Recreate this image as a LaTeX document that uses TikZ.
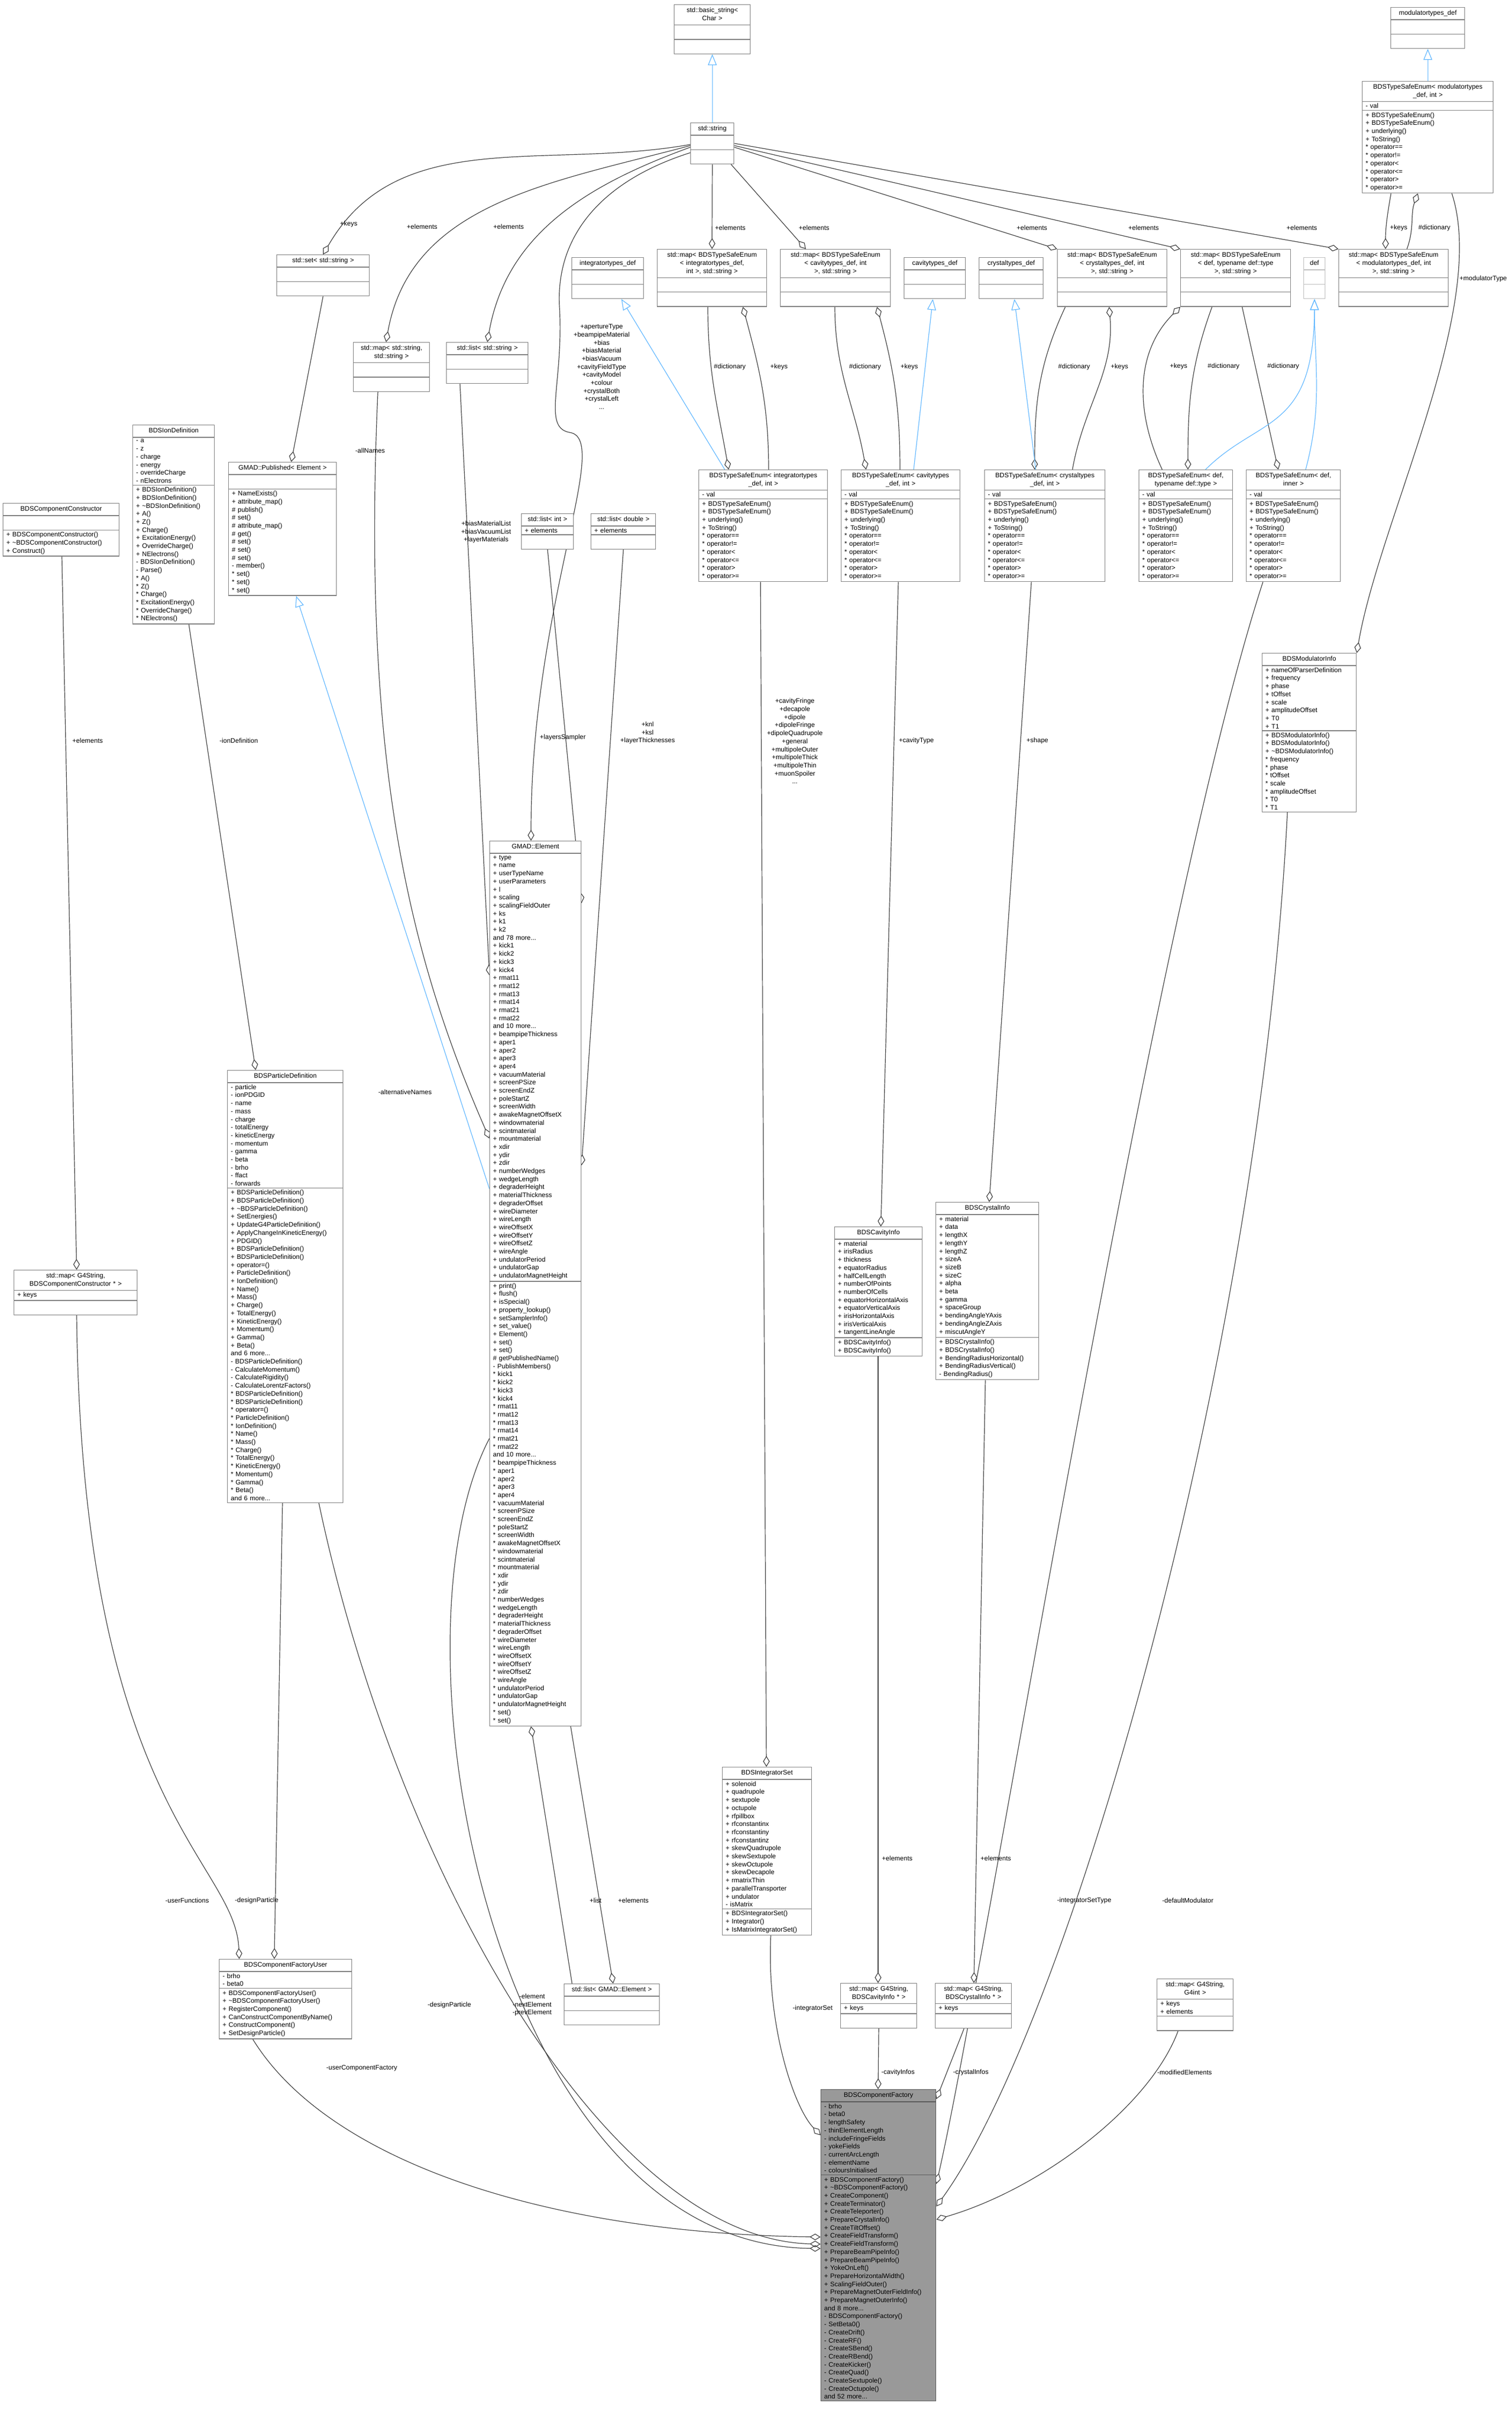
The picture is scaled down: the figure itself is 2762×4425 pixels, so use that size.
\documentclass[tikz,border=0pt]{standalone}
\usepackage{fontspec}
\setmainfont{Liberation Sans}
\usetikzlibrary{shapes.multipart,arrows.meta,backgrounds}
\definecolor{boxc}{HTML}{808080}
\definecolor{edgec}{HTML}{404040}
\definecolor{inhc}{HTML}{63B8FF}
\definecolor{cfc}{HTML}{999999}
\newcommand\fs{\fontsize{12}{14.7}\selectfont}
\newcommand\emp{\rule{0pt}{19pt}}
\newcommand\tl{\textasciitilde}
\newcommand\ttl[1]{\centering\begin{tabular}{@{}c@{}}#1\end{tabular}\par}
\tikzset{
 uml/.style={draw=boxc, line width=1.4pt, fill=white, rectangle split, rectangle split parts=3, anchor=north west, inner xsep=6pt, inner ysep=3pt, align=left, font=\fs},
 agg/.style={draw=edgec, line width=1.2pt, -{Diamond[open,length=20pt,width=12pt]}},
 inh/.style={draw=inhc, line width=1.2pt, -{Triangle[open,length=20pt,width=16pt]}},
 lbl/.style={font=\fs, inner sep=1pt, align=center},
}
\begin{document}
\begin{tikzpicture}[x=1pt,y=1pt]
\useasboundingbox (0,0) rectangle (2762,-4425);
% ---------- top row
\node[uml,text width=127] (bstr) at (1231,-8) {\ttl{std::basic\_string\textless\\ Char \textgreater}\nodepart{two}\emp\nodepart{three}\emp};
\node[uml,text width=67] (str) at (1261,-224) {\ttl{std::string}\nodepart{two}\emp\nodepart{three}\emp};
\node[uml,text width=123] (modtd) at (2540,-13) {\ttl{modulatortypes\_def}\nodepart{two}\emp\nodepart{three}\emp};
\node[uml,text width=227] (tsemod) at (2488,-148) {\ttl{BDSTypeSafeEnum\textless{} modulatortypes\\ \_def, int \textgreater}\nodepart{two}- val\nodepart{three}+ BDSTypeSafeEnum()\\+ BDSTypeSafeEnum()\\+ underlying()\\+ ToString()\\{}* operator==\\{}* operator!=\\{}* operator\textless\\{}* operator\textless=\\{}* operator\textgreater\\{}* operator\textgreater=};
% ---------- second row
\node[uml,text width=157] (setstr) at (505,-465) {\ttl{std::set\textless{} std::string \textgreater}\nodepart{two}\emp\nodepart{three}\emp};
\node[uml,text width=127] (mapss) at (645,-625) {\ttl{std::map\textless{} std::string,\\ std::string \textgreater}\nodepart{two}\emp\nodepart{three}\emp};
\node[uml,text width=137] (liststr) at (815,-625) {\ttl{std::list\textless{} std::string \textgreater}\nodepart{two}\emp\nodepart{three}\emp};
\node[uml,text width=119] (inttd) at (1044,-470) {\ttl{integratortypes\_def}\nodepart{two}\emp\nodepart{three}\emp};
\node[uml,text width=188] (mapint) at (1200,-455) {\ttl{std::map\textless{} BDSTypeSafeEnum\\\textless{} integratortypes\_def,\\ int \textgreater, std::string \textgreater}\nodepart{two}\emp\nodepart{three}\emp};
\node[uml,text width=189] (mapcav) at (1425,-455) {\ttl{std::map\textless{} BDSTypeSafeEnum\\\textless{} cavitytypes\_def, int\\ \textgreater, std::string \textgreater}\nodepart{two}\emp\nodepart{three}\emp};
\node[uml,text width=100] (cavtd) at (1651,-470) {\ttl{cavitytypes\_def}\nodepart{two}\emp\nodepart{three}\emp};
\node[uml,text width=105] (crytd) at (1788,-470) {\ttl{crystaltypes\_def}\nodepart{two}\emp\nodepart{three}\emp};
\node[uml,text width=188] (mapcry) at (1931,-455) {\ttl{std::map\textless{} BDSTypeSafeEnum\\\textless{} crystaltypes\_def, int\\ \textgreater, std::string \textgreater}\nodepart{two}\emp\nodepart{three}\emp};
\node[uml,text width=189] (mapdef) at (2156,-455) {\ttl{std::map\textless{} BDSTypeSafeEnum\\\textless{} def, typename def::type\\ \textgreater, std::string \textgreater}\nodepart{two}\emp\nodepart{three}\emp};
\node[uml,draw=boxc!50,text width=27] (deftd) at (2381,-470) {\ttl{def}\nodepart{two}\emp\nodepart{three}\emp};
\node[uml,text width=188] (mapmod) at (2445,-455) {\ttl{std::map\textless{} BDSTypeSafeEnum\\\textless{} modulatortypes\_def, int\\ \textgreater, std::string \textgreater}\nodepart{two}\emp\nodepart{three}\emp};
% ---------- third row
\node[uml,text width=137] (iondef) at (242,-776) {\ttl{BDSIonDefinition}\nodepart{two}- a\\- z\\- charge\\- energy\\- overrideCharge\\- nElectrons\nodepart{three}+ BDSIonDefinition()\\+ BDSIonDefinition()\\+ \tl BDSIonDefinition()\\+ A()\\+ Z()\\+ Charge()\\+ ExcitationEnergy()\\+ OverrideCharge()\\+ NElectrons()\\- BDSIonDefinition()\\- Parse()\\{}* A()\\{}* Z()\\{}* Charge()\\{}* ExcitationEnergy()\\{}* OverrideCharge()\\{}* NElectrons()};
\node[uml,text width=200] (compcon) at (5,-919) {\ttl{BDSComponentConstructor}\nodepart{two}\emp\nodepart{three}+ BDSComponentConstructor()\\+ \tl BDSComponentConstructor()\\+ Construct()};
\node[uml,text width=185] (pubel) at (417,-844) {\ttl{GMAD::Published\textless{} Element \textgreater}\nodepart{two}\emp\nodepart{three}+ NameExists()\\+ attribute\_map()\\\# publish()\\\# set()\\\# attribute\_map()\\\# get()\\\# set()\\\# set()\\\# set()\\- member()\\{}* set()\\{}* set()\\{}* set()};
\node[uml,text width=83] (listint) at (952,-938) {\ttl{std::list\textless{} int \textgreater}\nodepart{two}+ elements\nodepart{three}\emp};
\node[uml,text width=106] (listdbl) at (1079,-938) {\ttl{std::list\textless{} double \textgreater}\nodepart{two}+ elements\nodepart{three}\emp};
\node[uml,text width=223] (tseint) at (1276,-858) {\ttl{BDSTypeSafeEnum\textless{} integratortypes\\ \_def, int \textgreater}\nodepart{two}- val\nodepart{three}+ BDSTypeSafeEnum()\\+ BDSTypeSafeEnum()\\+ underlying()\\+ ToString()\\{}* operator==\\{}* operator!=\\{}* operator\textless\\{}* operator\textless=\\{}* operator\textgreater\\{}* operator\textgreater=};
\node[uml,text width=205] (tsecav) at (1536,-858) {\ttl{BDSTypeSafeEnum\textless{} cavitytypes\\ \_def, int \textgreater}\nodepart{two}- val\nodepart{three}+ BDSTypeSafeEnum()\\+ BDSTypeSafeEnum()\\+ underlying()\\+ ToString()\\{}* operator==\\{}* operator!=\\{}* operator\textless\\{}* operator\textless=\\{}* operator\textgreater\\{}* operator\textgreater=};
\node[uml,text width=208] (tsecry) at (1798,-858) {\ttl{BDSTypeSafeEnum\textless{} crystaltypes\\ \_def, int \textgreater}\nodepart{two}- val\nodepart{three}+ BDSTypeSafeEnum()\\+ BDSTypeSafeEnum()\\+ underlying()\\+ ToString()\\{}* operator==\\{}* operator!=\\{}* operator\textless\\{}* operator\textless=\\{}* operator\textgreater\\{}* operator\textgreater=};
\node[uml,text width=159] (tsedt) at (2080,-858) {\ttl{BDSTypeSafeEnum\textless{} def,\\ typename def::type \textgreater}\nodepart{two}- val\nodepart{three}+ BDSTypeSafeEnum()\\+ BDSTypeSafeEnum()\\+ underlying()\\+ ToString()\\{}* operator==\\{}* operator!=\\{}* operator\textless\\{}* operator\textless=\\{}* operator\textgreater\\{}* operator\textgreater=};
\node[uml,text width=160] (tsedi) at (2276,-858) {\ttl{BDSTypeSafeEnum\textless{} def,\\ inner \textgreater}\nodepart{two}- val\nodepart{three}+ BDSTypeSafeEnum()\\+ BDSTypeSafeEnum()\\+ underlying()\\+ ToString()\\{}* operator==\\{}* operator!=\\{}* operator\textless\\{}* operator\textless=\\{}* operator\textgreater\\{}* operator\textgreater=};
\node[uml,text width=160] (modinfo) at (2305,-1193) {\ttl{BDSModulatorInfo}\nodepart{two}+ nameOfParserDefinition\\+ frequency\\+ phase\\+ tOffset\\+ scale\\+ amplitudeOffset\\+ T0\\+ T1\nodepart{three}+ BDSModulatorInfo()\\+ BDSModulatorInfo()\\+ \tl BDSModulatorInfo()\\{}* frequency\\{}* phase\\{}* tOffset\\{}* scale\\{}* amplitudeOffset\\{}* T0\\{}* T1};
% ---------- GMAD::Element
\node[uml,text width=155] (elem) at (894,-1536) {\ttl{GMAD::Element}\nodepart{two}+ type\\+ name\\+ userTypeName\\+ userParameters\\+ l\\+ scaling\\+ scalingFieldOuter\\+ ks\\+ k1\\+ k2\\and 78 more...\\+ kick1\\+ kick2\\+ kick3\\+ kick4\\+ rmat11\\+ rmat12\\+ rmat13\\+ rmat14\\+ rmat21\\+ rmat22\\and 10 more...\\+ beampipeThickness\\+ aper1\\+ aper2\\+ aper3\\+ aper4\\+ vacuumMaterial\\+ screenPSize\\+ screenEndZ\\+ poleStartZ\\+ screenWidth\\+ awakeMagnetOffsetX\\+ windowmaterial\\+ scintmaterial\\+ mountmaterial\\+ xdir\\+ ydir\\+ zdir\\+ numberWedges\\+ wedgeLength\\+ degraderHeight\\+ materialThickness\\+ degraderOffset\\+ wireDiameter\\+ wireLength\\+ wireOffsetX\\+ wireOffsetY\\+ wireOffsetZ\\+ wireAngle\\+ undulatorPeriod\\+ undulatorGap\\+ undulatorMagnetHeight\nodepart{three}+ print()\\+ flush()\\+ isSpecial()\\+ property\_lookup()\\+ setSamplerInfo()\\+ set\_value()\\+ Element()\\+ set()\\+ set()\\\# getPublishedName()\\- PublishMembers()\\{}* kick1\\{}* kick2\\{}* kick3\\{}* kick4\\{}* rmat11\\{}* rmat12\\{}* rmat13\\{}* rmat14\\{}* rmat21\\{}* rmat22\\and 10 more...\\{}* beampipeThickness\\{}* aper1\\{}* aper2\\{}* aper3\\{}* aper4\\{}* vacuumMaterial\\{}* screenPSize\\{}* screenEndZ\\{}* poleStartZ\\{}* screenWidth\\{}* awakeMagnetOffsetX\\{}* windowmaterial\\{}* scintmaterial\\{}* mountmaterial\\{}* xdir\\{}* ydir\\{}* zdir\\{}* numberWedges\\{}* wedgeLength\\{}* degraderHeight\\{}* materialThickness\\{}* degraderOffset\\{}* wireDiameter\\{}* wireLength\\{}* wireOffsetX\\{}* wireOffsetY\\{}* wireOffsetZ\\{}* wireAngle\\{}* undulatorPeriod\\{}* undulatorGap\\{}* undulatorMagnetHeight\\{}* set()\\{}* set()};
% ---------- particle definition etc
\node[uml,text width=199] (partdef) at (415,-1955) {\ttl{BDSParticleDefinition}\nodepart{two}- particle\\- ionPDGID\\- name\\- mass\\- charge\\- totalEnergy\\- kineticEnergy\\- momentum\\- gamma\\- beta\\- brho\\- ffact\\- forwards\nodepart{three}+ BDSParticleDefinition()\\+ BDSParticleDefinition()\\+ \tl BDSParticleDefinition()\\+ SetEnergies()\\+ UpdateG4ParticleDefinition()\\+ ApplyChangeInKineticEnergy()\\+ PDGID()\\+ BDSParticleDefinition()\\+ BDSParticleDefinition()\\+ operator=()\\+ ParticleDefinition()\\+ IonDefinition()\\+ Name()\\+ Mass()\\+ Charge()\\+ TotalEnergy()\\+ KineticEnergy()\\+ Momentum()\\+ Gamma()\\+ Beta()\\and 6 more...\\- BDSParticleDefinition()\\- CalculateMomentum()\\- CalculateRigidity()\\- CalculateLorentzFactors()\\{}* BDSParticleDefinition()\\{}* BDSParticleDefinition()\\{}* operator=()\\{}* ParticleDefinition()\\{}* IonDefinition()\\{}* Name()\\{}* Mass()\\{}* Charge()\\{}* TotalEnergy()\\{}* KineticEnergy()\\{}* Momentum()\\{}* Gamma()\\{}* Beta()\\and 6 more...};
\node[uml,text width=213] (mapcc) at (25,-2320) {\ttl{std::map\textless{} G4String,\\ BDSComponentConstructor * \textgreater}\nodepart{two}+ keys\nodepart{three}\emp};
\node[uml,text width=148] (cavinfo) at (1524,-2241) {\ttl{BDSCavityInfo}\nodepart{two}+ material\\+ irisRadius\\+ thickness\\+ equatorRadius\\+ halfCellLength\\+ numberOfPoints\\+ numberOfCells\\+ equatorHorizontalAxis\\+ equatorVerticalAxis\\+ irisHorizontalAxis\\+ irisVerticalAxis\\+ tangentLineAngle\nodepart{three}+ BDSCavityInfo()\\+ BDSCavityInfo()};
\node[uml,text width=176] (cryinfo) at (1709,-2196) {\ttl{BDSCrystalInfo}\nodepart{two}+ material\\+ data\\+ lengthX\\+ lengthY\\+ lengthZ\\+ sizeA\\+ sizeB\\+ sizeC\\+ alpha\\+ beta\\+ gamma\\+ spaceGroup\\+ bendingAngleYAxis\\+ bendingAngleZAxis\\+ miscutAngleY\nodepart{three}+ BDSCrystalInfo()\\+ BDSCrystalInfo()\\+ BendingRadiusHorizontal()\\+ BendingRadiusVertical()\\- BendingRadius()};
\node[uml,text width=151] (intset) at (1319,-3228) {\ttl{BDSIntegratorSet}\nodepart{two}+ solenoid\\+ quadrupole\\+ sextupole\\+ octupole\\+ rfpillbox\\+ rfconstantinx\\+ rfconstantiny\\+ rfconstantinz\\+ skewQuadrupole\\+ skewSextupole\\+ skewOctupole\\+ skewDecapole\\+ rmatrixThin\\+ parallelTransporter\\+ undulator\\- isMatrix\nodepart{three}+ BDSIntegratorSet()\\+ Integrator()\\+ IsMatrixIntegratorSet()};
\node[uml,text width=162] (listel) at (1030,-3624) {\ttl{std::list\textless{} GMAD::Element \textgreater}\nodepart{two}\emp\nodepart{three}\emp};
\node[uml,text width=230] (cfu) at (400,-3579) {\ttl{BDSComponentFactoryUser}\nodepart{two}- brho\\- beta0\nodepart{three}+ BDSComponentFactoryUser()\\+ \tl BDSComponentFactoryUser()\\+ RegisterComponent()\\+ CanConstructComponentByName()\\+ ConstructComponent()\\+ SetDesignParticle()};
\node[uml,text width=127] (mapcav2) at (1535,-3623) {\ttl{std::map\textless{} G4String,\\ BDSCavityInfo * \textgreater}\nodepart{two}+ keys\nodepart{three}\emp};
\node[uml,text width=127] (mapcry2) at (1708,-3623) {\ttl{std::map\textless{} G4String,\\ BDSCrystalInfo * \textgreater}\nodepart{two}+ keys\nodepart{three}\emp};
\node[uml,text width=127] (mapg4) at (2113,-3615) {\ttl{std::map\textless{} G4String,\\ G4int \textgreater}\nodepart{two}+ keys\\+ elements\nodepart{three}\emp};
\node[uml,fill=cfc,draw=boxc!70!black,text width=198] (cf) at (1499,-3817) {\ttl{BDSComponentFactory}\nodepart{two}- brho\\- beta0\\- lengthSafety\\- thinElementLength\\- includeFringeFields\\- yokeFields\\- currentArcLength\\- elementName\\- coloursInitialised\nodepart{three}+ BDSComponentFactory()\\+ \tl BDSComponentFactory()\\+ CreateComponent()\\+ CreateTerminator()\\+ CreateTeleporter()\\+ PrepareCrystalInfo()\\+ CreateTiltOffset()\\+ CreateFieldTransform()\\+ CreateFieldTransform()\\+ PrepareBeamPipeInfo()\\+ PrepareBeamPipeInfo()\\+ YokeOnLeft()\\+ PrepareHorizontalWidth()\\+ ScalingFieldOuter()\\+ PrepareMagnetOuterFieldInfo()\\+ PrepareMagnetOuterInfo()\\and 8 more...\\- BDSComponentFactory()\\- SetBeta0()\\- CreateDrift()\\- CreateRF()\\- CreateSBend()\\- CreateRBend()\\- CreateKicker()\\- CreateQuad()\\- CreateSextupole()\\- CreateOctupole()\\and 52 more...};
% ================= connectors
\begin{scope}[on background layer]
\draw[inh] (str.north) -- (bstr.south);
\draw[agg] ([yshift=-40pt]str.north west) to[out=190,in=60] (setstr.north);
\draw[agg] ([yshift=-42pt]str.north west) to[out=195,in=80] ([xshift=-10pt]mapss.north);
\draw[agg] ([yshift=-45pt]str.north west) to[out=200,in=80] (liststr.north);
\draw[agg] ([yshift=-55pt]str.north west) .. controls (1100,-330) and (1015,-430) .. (1022,-560) .. controls (1030,-700) and (990,-780) .. (1040,-790) .. controls (1120,-800) and (970,-1100) .. ([xshift=76pt]elem.north west);
\draw[agg] (str.south) -- (mapint.north);
\draw[agg] ([xshift=-6pt]str.south east) -- ([xshift=47pt]mapcav.north west);
\draw[agg] ([yshift=-45pt]str.north east) -- (mapcry.north west);
\draw[agg] ([yshift=-42pt]str.north east) -- (mapdef.north west);
\draw[agg] ([yshift=-38pt]str.north east) -- (mapmod.north west);
\draw[agg] ([xshift=93pt]mapint.south west) to[out=-90,in=100] ([xshift=55pt]tseint.north west);
\draw[agg] ([xshift=128pt]tseint.north west) to[out=90,in=-75] ([xshift=157pt]mapint.south west);
\draw[inh] ([xshift=48pt]tseint.north west) -- ([xshift=91pt]inttd.south west);
\draw[agg] ([xshift=100pt]mapcav.south west) to[out=-90,in=100] ([xshift=46pt]tsecav.north west);
\draw[agg] ([xshift=108pt]tsecav.north west) to[out=90,in=-75] ([xshift=177pt]mapcav.south west);
\draw[inh] ([xshift=133pt]tsecav.north west) -- ([xshift=53pt]cavtd.south west);
\draw[agg] ([xshift=15pt]mapcry.south west) to[out=-115,in=90] ([xshift=92pt]tsecry.north west);
\draw[agg] ([xshift=161pt]tsecry.north west) to[out=80,in=-85] ([xshift=95pt]mapcry.south west);
\draw[inh] ([xshift=94pt]tsecry.north west) -- ([xshift=65pt]crytd.south west);
\draw[agg] ([xshift=58pt]mapdef.south west) to[out=-110,in=90] ([xshift=90pt]tsedt.north west);
\draw[agg] ([xshift=43pt]tsedt.north west) to[out=115,in=-135] (mapdef.south west);
\draw[agg] ([xshift=113pt]mapdef.south west) -- ([xshift=59pt]tsedi.north west);
\draw[inh] ([xshift=122pt]tsedt.north west) .. controls (2300,-760) and (2400,-790) .. (deftd.south);
\draw[inh] ([xshift=109pt]tsedi.north west) to[out=75,in=-90] (deftd.south);
\draw[inh] (tsemod.north) -- (modtd.south);
\draw[agg] ([xshift=53pt]tsemod.south west) to[out=-100,in=90] ([xshift=86pt]mapmod.north west);
\draw[agg] ([xshift=125pt]mapmod.north west) to[out=70,in=-110] ([xshift=102pt]tsemod.south west);
\draw[agg] ([xshift=164pt]tsemod.south west) .. controls (2720,-560) and (2520,-950) .. (modinfo.north east);
\draw[agg] (setstr.south) -- ([xshift=115pt]pubel.north west);
\draw[inh] ([yshift=-636pt]elem.north west) -- ([xshift=124pt]pubel.south west);
\draw[agg] ([xshift=-25pt]mapss.south) .. controls (660,-1400) and (750,-1750) .. ([yshift=-544pt]elem.north west);
\draw[agg] ([xshift=-50pt]liststr.south) -- ([yshift=-246pt]elem.north west);
\draw[agg] (listint.south) -- ([yshift=-114pt]elem.north east);
\draw[agg] (listdbl.south) -- ([yshift=-593pt]elem.north east);
\draw[agg] ([xshift=103pt]iondef.south west) -- ([xshift=52pt]partdef.north west);
\draw[agg] ([xshift=108pt]compcon.south west) -- ([xshift=115pt]mapcc.north west);
\draw[agg] ([xshift=115pt]mapcc.south west) .. controls (150,-3300) and (430,-3400) .. ([xshift=37pt]cfu.north west);
\draw[agg] ([xshift=101pt]partdef.south west) -- ([xshift=101pt]cfu.north west);
\draw[agg] ([xshift=-45pt]partdef.south east) .. controls (720,-3400) and (1100,-4090) .. ([yshift=-283pt]cf.north west);
\draw[agg] ([xshift=-20pt]elem.south east) -- ([xshift=90pt]listel.north west);
\draw[agg] ([xshift=15pt]listel.north west) -- ([xshift=76pt]elem.south west);
\draw[agg] ([yshift=-1092pt]elem.north west) .. controls (700,-3000) and (900,-4100) .. ([yshift=-291pt]cf.north west);
\draw[agg] ([xshift=-60pt]cfu.south) .. controls (600,-3950) and (1000,-4080) .. ([yshift=-270pt]cf.north west);
\draw[agg] ([xshift=89pt]intset.south west) .. controls (1400,-3700) and (1450,-3850) .. ([yshift=-84pt]cf.north west);
\draw[agg] ([xshift=-5pt]tseint.south) -- ([xshift=81pt]intset.north west);
\draw[agg] ([xshift=105pt]tsecav.south west) -- ([xshift=85pt]cavinfo.north west);
\draw[agg] ([xshift=86pt]tsecry.south west) -- ([xshift=98pt]cryinfo.north west);
\draw[agg] ([xshift=80pt]cavinfo.south west) -- ([xshift=69pt]mapcav2.north west);
\draw[agg] ([xshift=91pt]cryinfo.south west) -- ([xshift=71pt]mapcry2.north west);
\draw[agg] (mapcav2.south) -- ([xshift=105pt]cf.north west);
\draw[agg] ([xshift=53pt]mapcry2.south west) -- ([yshift=-18pt]cf.north east);
\draw[agg] ([xshift=31pt]tsedi.south west) .. controls (2100,-1700) and (1800,-3600) .. ([yshift=-173pt]cf.north east);
\draw[agg] ([xshift=-40pt]modinfo.south) .. controls (2300,-2500) and (1950,-3700) .. ([yshift=-214pt]cf.north east);
\draw[agg] ([xshift=39pt]mapg4.south west) .. controls (2100,-3850) and (1900,-4000) .. ([yshift=-238pt]cf.north east);
\end{scope}
% ================= labels
\node[lbl,anchor=west] (t1) at (620,-409) {+keys};
\node[lbl,anchor=west] (t2) at (742,-414) {+elements};
\node[lbl,anchor=west] (t3) at (900,-414) {+elements};
\node[lbl] (t4) at (1099,-670) {+apertureType\\+beampipeMaterial\\+bias\\+biasMaterial\\+biasVacuum\\+cavityFieldType\\+cavityModel\\+colour\\+crystalBoth\\+crystalLeft\\...};
\node[lbl,anchor=west] (t5) at (1305,-416) {+elements};
\node[lbl,anchor=west] (t6) at (1458,-416) {+elements};
\node[lbl,anchor=west] (t7) at (1856,-416) {+elements};
\node[lbl,anchor=west] (t8) at (2060,-416) {+elements};
\node[lbl,anchor=west] (t9) at (2349,-416) {+elements};
\node[lbl,anchor=west] (t10) at (2538,-416) {+keys};
\node[lbl,anchor=west] (t11) at (2590,-416) {\#dictionary};
\node[lbl,anchor=west] (t12) at (2665,-509) {+modulatorType};
\node[lbl,anchor=west] (t13) at (1303,-670) {\#dictionary};
\node[lbl,anchor=west] (t14) at (1406,-670) {+keys};
\node[lbl,anchor=west] (t15) at (1550,-670) {\#dictionary};
\node[lbl,anchor=west] (t16) at (1644,-670) {+keys};
\node[lbl,anchor=west] (t17) at (1932,-670) {\#dictionary};
\node[lbl,anchor=west] (t18) at (2028,-670) {+keys};
\node[lbl,anchor=west] (t19) at (2136,-669) {+keys};
\node[lbl,anchor=west] (t20) at (2205,-669) {\#dictionary};
\node[lbl,anchor=west] (t21) at (2314,-669) {\#dictionary};
\node[lbl,anchor=west] (t22) at (648,-823) {-allNames};
\node[lbl,anchor=west] (t23) at (690,-1995) {-alternativeNames};
\node[lbl] (t24) at (888,-972) {+biasMaterialList\\+biasVacuumList\\+layerMaterials};
\node[lbl] (t25) at (1028,-1347) {+layersSampler};
\node[lbl] (t26) at (1183,-1339) {+knl\\+ksl\\+layerThicknesses};
\node[lbl,anchor=west] (t27) at (400,-1353) {-ionDefinition};
\node[lbl,anchor=west] (t28) at (131,-1353) {+elements};
\node[lbl] (t29) at (1452,-1354) {+cavityFringe\\+decapole\\+dipole\\+dipoleFringe\\+dipoleQuadrupole\\+general\\+multipoleOuter\\+multipoleThick\\+multipoleThin\\+muonSpoiler\\...};
\node[lbl,anchor=west] (t30) at (1641,-1353) {+cavityType};
\node[lbl,anchor=west] (t31) at (1874,-1353) {+shape};
\node[lbl,anchor=west] (t32) at (301,-3472) {-userFunctions};
\node[lbl,anchor=west] (t33) at (428,-3472) {-designParticle};
\node[lbl,anchor=east] (t34) at (1100,-3472) {+list};
\node[lbl,anchor=west] (t35) at (1128,-3472) {+elements};
\node[lbl,anchor=west] (t36) at (1610,-3395) {+elements};
\node[lbl,anchor=west] (t37) at (1790,-3395) {+elements};
\node[lbl,anchor=west] (t38) at (1930,-3472) {-integratorSetType};
\node[lbl,anchor=west] (t39) at (2122,-3472) {-defaultModulator};
\node[lbl,anchor=west] (t40) at (1447,-3669) {-integratorSet};
\node[lbl,anchor=west] (t41) at (1609,-3786) {-cavityInfos};
\node[lbl,anchor=west] (t42) at (1740,-3786) {-crystalInfos};
\node[lbl,anchor=west] (t43) at (2113,-3786) {-modifiedElements};
\node[lbl,anchor=west] (t44) at (595,-3779) {-userComponentFactory};
\node[lbl,anchor=west] (t45) at (780,-3663) {-designParticle};
\node[lbl] (t46) at (972,-3663) {-element\\-nextElement\\-prevElement};
\end{tikzpicture}
\end{document}
